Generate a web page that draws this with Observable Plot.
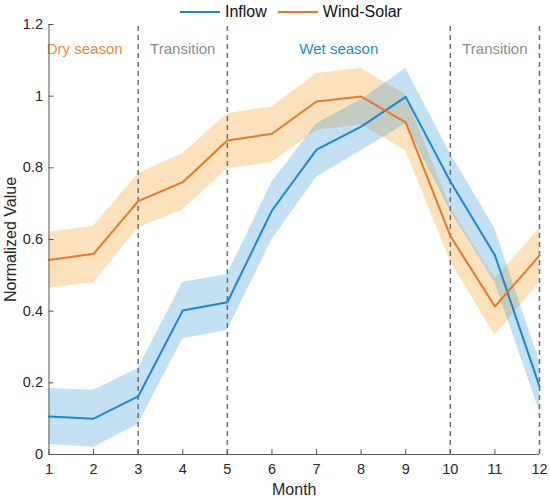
<!DOCTYPE html>
<html><head><meta charset="utf-8">
<script src="https://cdn.jsdelivr.net/npm/d3@7"></script>
<script src="https://cdn.jsdelivr.net/npm/@observablehq/plot@0.6"></script>
<style>
body{margin:0;background:#fff;font-family:"Liberation Sans",Arial,sans-serif}
#wrap{position:relative;width:550px;height:499px}
#legend{position:absolute;top:1px;left:180px;display:flex;align-items:center;font-size:16px;color:#111;z-index:2;height:22px}
#legend .sw{display:inline-block;width:40px;height:0;border-top:2px solid;margin-right:5px}
#legend .it{display:flex;align-items:center;margin-right:11px}
</style></head><body>
<div id="wrap"><div id="legend"></div></div>
<script>
const months = [1,2,3,4,5,6,7,8,9,10,11,12];
const inflow   = [0.106,0.100,0.162,0.402,0.425,0.681,0.851,0.915,0.998,0.762,0.556,0.190];
const inflowLo = [0.028,0.020,0.084,0.323,0.346,0.600,0.774,0.848,0.923,0.680,0.480,0.120];
const inflowHi = [0.184,0.179,0.240,0.481,0.502,0.760,0.923,0.990,1.077,0.840,0.630,0.260];
const windSolar   = [0.543,0.560,0.707,0.760,0.876,0.895,0.985,0.999,0.927,0.610,0.413,0.555];
const windSolarLo = [0.464,0.479,0.632,0.683,0.797,0.815,0.905,0.920,0.848,0.540,0.332,0.480];
const windSolarHi = [0.620,0.637,0.784,0.840,0.951,0.970,1.063,1.077,1.005,0.690,0.490,0.630];
const seriesNames = ["Inflow","Wind-Solar"];
const seriesColors = ["#1A87D6","#EA762C"];
const bandColors = ["#2A94D8","#F7B24F"];
const bandOpacity = [0.28,0.38];
const seasonLabels = ["Dry season","Transition","Wet season","Transition"];
const seasonX = [1.8,4,7.5,11];
const seasonY = [1.13,1.13,1.13,1.13];
const seasonColors = ["#EC8A35","#8C8C8C","#1A8BD0","#8C8C8C"];
const boundaries = [3,5,10,12];
const yTicks = [0,0.2,0.4,0.6,0.8,1,1.2];

const rows = (vals, lo, hi, name) => months.map((m,i)=>({month:m, v:vals[i], lo:lo[i], hi:hi[i], name}));
const dInflow = rows(inflow, inflowLo, inflowHi, seriesNames[0]);
const dWS = rows(windSolar, windSolarLo, windSolarHi, seriesNames[1]);
const seasons = seasonLabels.map((t,i)=>({t, x:seasonX[i], y:seasonY[i], c:seasonColors[i]}));

const lg = document.getElementById("legend");
seriesNames.forEach((n,i)=>{
  const it = document.createElement("span"); it.className="it";
  const sw = document.createElement("span"); sw.className="sw"; sw.style.borderColor = seriesColors[i];
  it.appendChild(sw); it.appendChild(document.createTextNode(n)); lg.appendChild(it);
});

const axisColor = "#555";
const plot = Plot.plot({
  width: 550, height: 499,
  marginLeft: 48.5, marginRight: 11, marginTop: 24, marginBottom: 45,
  style: {fontFamily: '"Liberation Sans", Arial, sans-serif', fontSize: "14px", color: "#262626", background: "#fff"},
  x: {domain: [1,12], ticks: months, label: null},
  y: {domain: [0,1.2], ticks: yTicks, label: null},
  marks: [
    Plot.areaY(dWS, {x:"month", y1:"lo", y2:"hi", fill: bandColors[1], fillOpacity: bandOpacity[1]}),
    Plot.areaY(dInflow, {x:"month", y1:"lo", y2:"hi", fill: bandColors[0], fillOpacity: bandOpacity[0]}),
    Plot.ruleX(boundaries, {y1: 0, y2: 1.2, stroke: "#6e6e6e", strokeWidth: 1.5, strokeDasharray: "5,4"}),
    Plot.lineY(dInflow, {x:"month", y:"v", stroke: seriesColors[0], strokeWidth: 2}),
    Plot.lineY(dWS, {x:"month", y:"v", stroke: seriesColors[1], strokeWidth: 2}),
    Plot.text(seasons, {x:"x", y:"y", text:"t", fill:"c", fontSize: 15}),
    Plot.ruleY([0], {stroke: axisColor}),
    Plot.ruleX([1], {y1: 0, y2: 1.2, stroke: axisColor}),
    Plot.axisX({ticks: months, tickSize: 5, dy: -5, text: null, stroke: axisColor}),
    Plot.axisX({ticks: months, tickSize: 0, tickPadding: 9, fontSize: 14.5, fill: "#262626", label: null}),
    Plot.axisX({ticks: [], tickSize: 0, fontSize: 16, fill: "#262626", label: "Month", labelAnchor: "center", labelOffset: 40, labelArrow: "none"}),
    Plot.axisY({ticks: yTicks, tickSize: 5, dx: 5, text: null, stroke: axisColor}),
    Plot.axisY({ticks: yTicks, tickSize: 0, tickPadding: 6, fontSize: 14.5, fill: "#262626", tickFormat: d => String(+d.toFixed(2)), label: null}),
    Plot.axisY({ticks: [], tickSize: 0, fontSize: 16, fill: "#262626", label: "Normalized Value", labelAnchor: "center", labelOffset: 44, labelArrow: "none"})
  ]
});
plot.style.position = "absolute"; plot.style.top = "0"; plot.style.left = "0";
document.getElementById("wrap").appendChild(plot);
</script>
</body></html>
